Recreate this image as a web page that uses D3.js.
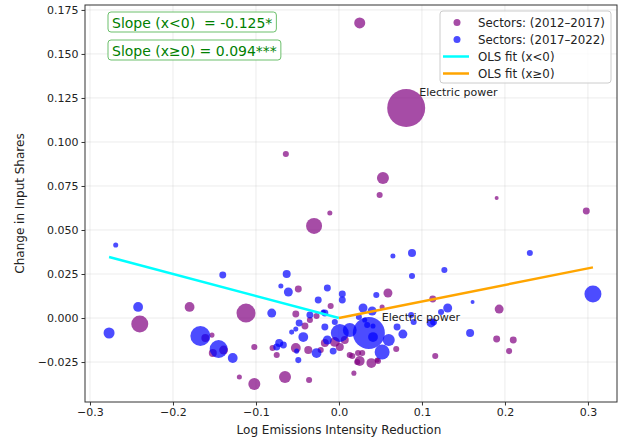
<!DOCTYPE html>
<html>
<head>
<meta charset="utf-8">
<script src="https://cdn.jsdelivr.net/npm/d3@7"></script>
<style>
  body { margin: 0; background: #fff; }
  text { font-family: "DejaVu Sans", sans-serif; }
</style>
</head>
<body>
<div id="chart"></div>
<script>
// svg size
let svgWidth = 629;
let svgHeight = 443;
let margin = { top: 5, right: 12, bottom: 41, left: 85 };

// sectors 2012-2017: [log emissions intensity reduction, change in input share, weight]
let sectors1217 = [
  [0.025, 0.1676, 7.6], [0.081, 0.1193, 90], [0.053, 0.0795, 9], [0.049, 0.0699, 2.3],
  [0.190, 0.0682, 1], [-0.064, 0.0932, 2.3], [-0.011, 0.0597, 1.6], [-0.030, 0.0523, 16],
  [0.298, 0.0608, 3], [0.059, 0.0142, 5], [0.113, 0.0108, 3], [0.193, 0.0051, 5],
  [0.190, -0.0119, 3], [0.210, -0.0125, 3], [0.205, -0.0188, 2.3], [0.116, -0.0216, 2.3],
  [0.069, -0.0176, 2.3], [0.052, 0.0063, 1.6], [0.039, -0.0256, 6], [0.025, -0.0244, 6],
  [0.018, -0.0313, 1.6], [0.046, -0.0239, 1.6], [0.016, -0.0216, 2.3], [0.023, -0.0199, 2.3],
  [0.028, -0.0199, 2.3], [-0.240, -0.0034, 18], [-0.180, 0.0063, 6], [-0.112, 0.0028, 22.5],
  [-0.153, -0.0097, 1.6], [-0.152, -0.0199, 4], [-0.139, -0.0182, 5], [-0.102, -0.0165, 2.3],
  [-0.120, -0.0335, 1.6], [-0.102, -0.0375, 9], [-0.065, -0.0335, 9], [-0.036, -0.0352, 2.3],
  [-0.049, 0.0165, 3], [-0.052, 0.0023, 3], [-0.041, -0.0045, 3], [-0.035, -0.0011, 2.3],
  [-0.052, -0.0170, 6], [-0.037, -0.0182, 4], [-0.075, -0.0210, 2.3], [-0.080, -0.0170, 2.3],
  [-0.010, 0.0068, 2.3], [-0.022, -0.0182, 2.3], [0.013, -0.0210, 2.3], [0.022, -0.0250, 2.3],
  [-0.027, 0.0011, 2.3], [-0.005, -0.0136, 6], [-0.017, -0.0142, 4], [0.001, -0.0165, 4],
  [-0.161, -0.0114, 4], [0.047, -0.0244, 2.3], [0.007, -0.0125, 4]
];

// sectors 2017-2022
let sectors1722 = [
  [-0.277, -0.0085, 7.6], [-0.242, 0.0063, 6], [-0.269, 0.0415, 1.6], [-0.140, 0.0244, 3],
  [-0.167, -0.0102, 25], [-0.145, -0.0176, 20], [-0.128, -0.0227, 6], [-0.081, 0.0028, 5],
  [-0.063, 0.0250, 4], [-0.070, 0.0182, 1.6], [-0.061, 0.0148, 5], [-0.014, 0.0170, 3],
  [-0.025, 0.0102, 3], [0.004, 0.0136, 3], [0.004, 0.0102, 3], [-0.017, 0.0028, 3],
  [-0.048, -0.0028, 3], [-0.043, -0.0108, 6], [-0.057, -0.0080, 1.6], [-0.052, -0.0063, 1.6],
  [-0.072, -0.0142, 4], [-0.075, -0.0165, 3], [-0.067, -0.0153, 3], [-0.051, -0.0188, 1.6],
  [-0.049, -0.0239, 2.3], [-0.027, -0.0199, 6], [-0.017, -0.0051, 3], [-0.007, -0.0188, 3],
  [-0.014, -0.0125, 5], [0.001, -0.0085, 20], [0.013, -0.0068, 12], [-0.035, 0.0017, 3],
  [-0.019, 0.0034, 1.6], [-0.005, -0.0023, 2.3], [0.065, 0.0352, 1.6], [0.088, 0.0369, 4],
  [0.088, 0.0239, 2.3], [0.127, 0.0273, 2.3], [0.230, 0.0369, 2.3], [0.306, 0.0136, 18],
  [0.161, 0.0091, 1], [0.131, 0.0057, 5], [0.123, 0.0034, 2.3], [0.158, -0.0085, 4],
  [0.111, -0.0028, 5], [0.114, -0.0023, 3], [0.090, -0.0023, 2.3], [0.087, 0.0017, 2.3],
  [0.045, 0.0131, 2.3], [0.077, -0.0091, 5], [0.070, -0.0051, 3], [0.060, -0.0125, 9],
  [0.052, -0.0193, 14], [0.036, -0.0085, 64], [0.041, -0.0108, 6], [0.034, -0.0040, 2.3],
  [0.041, -0.0045, 1.6], [0.029, 0.0057, 5], [0.040, 0.0040, 5], [0.024, 0.0006, 2.3],
  [0.031, -0.0011, 1.6]
];

// labelled points: [x, y, label]
let annotations = [
  [0.081, 0.1193, "Electric power"],
  [0.036, -0.0085, "Electric power"]
];

// piecewise OLS fits
let fitNeg = { slope: -0.125, intercept: 0, x0: -0.277, x1: 0 };
let fitPos = { slope: 0.094, intercept: 0, x0: 0, x1: 0.306 };
let slopeLabels = ["Slope (x<0)  = -0.125*", "Slope (x\u22650) = 0.094***"];

let xTicks = [-0.3, -0.2, -0.1, 0.0, 0.1, 0.2, 0.3];
let yTicks = [-0.025, 0, 0.025, 0.05, 0.075, 0.1, 0.125, 0.15, 0.175];

let svg = d3.select("#chart").append("svg")
  .attr("width", svgWidth)
  .attr("height", svgHeight);

let width = svgWidth - margin.left - margin.right;
let height = svgHeight - margin.top - margin.bottom;

let chartGroup = svg.append("g")
  .attr("transform", `translate(${margin.left}, ${margin.top})`);

let x = d3.scaleLinear().domain([-0.306, 0.335]).range([0, width]);
let y = d3.scaleLinear().domain([-0.0477, 0.1778]).range([height, 0]);
let r = d3.scaleSqrt().domain([0, 90]).range([0, 19]);

let fmtMinus = s => s.replace("-", "\u2212");

// grid
chartGroup.append("g").selectAll("line").data(xTicks).enter().append("line")
  .attr("x1", d => x(d)).attr("x2", d => x(d)).attr("y1", 0).attr("y2", height)
  .attr("stroke", "#b0b0b0").attr("stroke-opacity", 0.3).attr("stroke-width", 0.8);
chartGroup.append("g").selectAll("line").data(yTicks).enter().append("line")
  .attr("y1", d => y(d)).attr("y2", d => y(d)).attr("x1", 0).attr("x2", width)
  .attr("stroke", "#b0b0b0").attr("stroke-opacity", 0.3).attr("stroke-width", 0.8);

// points
chartGroup.append("g").selectAll("circle").data(sectors1217).enter().append("circle")
  .attr("cx", d => x(d[0])).attr("cy", d => y(d[1])).attr("r", d => r(d[2]))
  .attr("fill", "purple").attr("fill-opacity", 0.7);
chartGroup.append("g").selectAll("circle").data(sectors1722).enter().append("circle")
  .attr("cx", d => x(d[0])).attr("cy", d => y(d[1])).attr("r", d => r(d[2]))
  .attr("fill", "blue").attr("fill-opacity", 0.7);

// fit lines
let fitLine = f => [[f.x0, f.intercept + f.slope * f.x0], [f.x1, f.intercept + f.slope * f.x1]];
let line = d3.line().x(d => x(d[0])).y(d => y(d[1]));
chartGroup.append("path").datum(fitLine(fitNeg)).attr("d", line)
  .attr("fill", "none").attr("stroke", "cyan").attr("stroke-width", 2.5);
chartGroup.append("path").datum(fitLine(fitPos)).attr("d", line)
  .attr("fill", "none").attr("stroke", "orange").attr("stroke-width", 2.5);

// annotations
chartGroup.selectAll(".ann").data(annotations).enter().append("text")
  .attr("class", "ann")
  .attr("x", d => x(d[0]) + 13).attr("y", d => y(d[1]) - 12)
  .attr("font-size", "11px").attr("fill", "#222")
  .text(d => d[2]);

// slope boxes
slopeLabels.forEach((s, i) => {
  let g = chartGroup.append("g").attr("transform", `translate(23, ${7 + i * 28})`);
  let t = g.append("text").attr("x", 4).attr("y", 15.5)
    .attr("font-size", "14px").attr("fill", "green")
    .style("white-space", "pre").text(s);
  let w = t.node().getComputedTextLength();
  g.insert("rect", "text").attr("x", 0).attr("y", 0).attr("width", w + 8).attr("height", 20)
    .attr("rx", 3).attr("fill", "white").attr("stroke", "#5cb85c").attr("stroke-opacity", 0.9)
    .attr("stroke-width", 1);
});

// axes
let xAxis = chartGroup.append("g")
  .attr("transform", `translate(0,${height})`)
  .call(d3.axisBottom(x).tickValues(xTicks).tickFormat(d => fmtMinus(d3.format(".1f")(d))).tickSize(3.5).tickSizeOuter(0));
let yAxis = chartGroup.append("g")
  .call(d3.axisLeft(y).tickValues(yTicks).tickFormat(d => fmtMinus(d3.format(".3f")(d))).tickSize(3.5).tickSizeOuter(0));
[xAxis, yAxis].forEach(a => {
  a.select(".domain").remove();
  a.selectAll("text").attr("font-size", "11px").attr("fill", "#222").style("font-family", "DejaVu Sans");
  a.selectAll("line").attr("stroke", "#333");
});

// frame
chartGroup.append("rect").attr("width", width).attr("height", height)
  .attr("fill", "none").attr("stroke", "#333").attr("stroke-width", 1);

// axis labels
svg.append("text").attr("x", margin.left + x(0)).attr("y", 434)
  .attr("text-anchor", "middle").attr("font-size", "12px").attr("fill", "#222")
  .text("Log Emissions Intensity Reduction");
svg.append("text")
  .attr("transform", `translate(24, ${margin.top + height / 2}) rotate(-90)`)
  .attr("text-anchor", "middle").attr("font-size", "12px").attr("fill", "#222")
  .text("Change in Input Shares");

// legend
let legend = chartGroup.append("g").attr("transform", `translate(${width - 177}, 6)`);
legend.append("rect").attr("width", 171).attr("height", 72).attr("rx", 3)
  .attr("fill", "white").attr("fill-opacity", 0.8).attr("stroke", "#ccc");
let legendItems = [
  { label: "Sectors: (2012\u20132017)", color: "purple", type: "dot" },
  { label: "Sectors: (2017\u20132022)", color: "blue", type: "dot" },
  { label: "OLS fit (x<0)", color: "cyan", type: "line" },
  { label: "OLS fit (x\u22650)", color: "orange", type: "line" }
];
legendItems.forEach((d, i) => {
  let yy = 11.5 + i * 17;
  if (d.type === "dot") {
    legend.append("circle").attr("cx", 17).attr("cy", yy).attr("r", 3.5)
      .attr("fill", d.color).attr("fill-opacity", 0.7);
  } else {
    legend.append("line").attr("x1", 3).attr("x2", 29).attr("y1", yy).attr("y2", yy)
      .attr("stroke", d.color).attr("stroke-width", 2.5);
  }
  legend.append("text").attr("x", 38).attr("y", yy + 4.5)
    .attr("font-size", "11.8px").attr("fill", "#222").text(d.label);
});
</script>
</body>
</html>
